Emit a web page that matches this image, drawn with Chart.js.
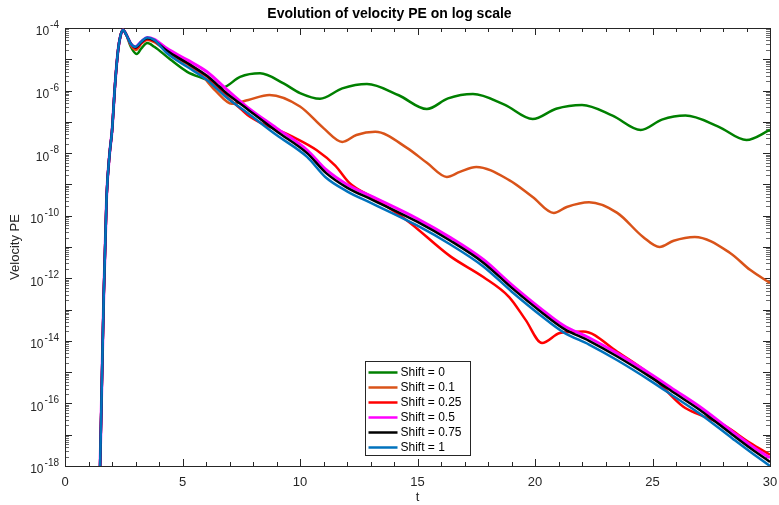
<!DOCTYPE html>
<html>
<head>
<meta charset="utf-8">
<script src="https://cdn.jsdelivr.net/npm/chart.js@4.4.1/dist/chart.umd.min.js"></script>
<style>
  html, body { margin: 0; padding: 0; background: #fff; }
  #wrap { width: 779px; height: 505px; }
</style>
</head>
<body>
<div id="wrap"><canvas id="velChart" width="779" height="505"></canvas></div>
<script>
// data: waktu t dan eksponen (log10) dari Velocity PE
var tGreen = [1.45, 1.55, 1.65, 1.77, 1.9, 2.0, 2.13, 2.26, 2.36, 2.47, 2.6, 2.8, 3.05, 3.25, 3.5, 3.8, 4.47, 5.2, 6.04, 6.7,
              7.45, 8.3, 9.3, 10.0, 10.85, 11.8, 12.85, 14.2, 15.4, 16.3, 17.36, 18.7, 19.9, 20.9, 22.0, 23.3, 24.5, 25.4, 26.4, 27.8, 29.0, 30];
var eGreen = [-19.5, -16, -12.5, -9.4, -8, -7.3, -5.8, -4.7, -4.25, -4.06, -4.2, -4.6, -4.83, -4.65, -4.48, -4.6, -5.0, -5.4, -5.66, -5.9,
              -5.56, -5.45, -5.77, -6.08, -6.26, -5.93, -5.79, -6.15, -6.59, -6.25, -6.11, -6.45, -6.91, -6.58, -6.46, -6.8, -7.26, -6.93, -6.8, -7.15, -7.58, -7.26];

var tOrange = [1.45, 1.55, 1.65, 1.77, 1.9, 2.0, 2.13, 2.26, 2.36, 2.47, 2.6, 2.8, 3.02, 3.25, 3.5, 3.8, 4.3, 4.76, 5.2, 5.8,
               6.4, 7.1, 7.8, 8.7, 10.0, 11.0, 11.8, 12.4, 13.2, 14.55, 15.4, 16.25, 16.8, 17.5, 18.9, 19.9, 20.8, 21.35, 22.3, 23.5,
               24.6, 25.3, 25.9, 26.8, 28.3, 29.15, 30];
var eOrange = [-19.5, -16, -12.5, -9.4, -8, -7.3, -5.8, -4.7, -4.25, -4.06, -4.2, -4.55, -4.7, -4.5, -4.38, -4.45, -4.72, -4.97, -5.15, -5.5,
               -6.0, -6.42, -6.3, -6.14, -6.51, -7.2, -7.64, -7.42, -7.32, -7.83, -8.31, -8.76, -8.6, -8.44, -8.86, -9.4, -9.91, -9.72, -9.57, -9.91,
               -10.68, -11.0, -10.8, -10.68, -11.19, -11.73, -12.15];

var tRed = [1.45, 1.55, 1.65, 1.77, 1.9, 2.0, 2.13, 2.26, 2.36, 2.47, 2.6, 2.8, 3.02, 3.25, 3.5, 3.8, 4.33, 5.2, 6.04, 6.6,
            6.9, 7.5, 7.87, 8.5, 9.15, 9.7, 10.7, 11.5, 12.1, 13.1, 14.55, 16.4, 17.8, 18.9, 19.6, 20.3, 21.06, 22.05, 23.5, 24.9,
            26.3, 27.0, 28.0, 29.15, 30];
var eRed = [-19.5, -16, -12.5, -9.4, -8, -7.3, -5.8, -4.7, -4.25, -4.06, -4.2, -4.52, -4.65, -4.48, -4.36, -4.42, -4.75, -5.12, -5.55, -5.95,
            -6.2, -6.6, -6.84, -7.1, -7.29, -7.48, -7.9, -8.4, -8.95, -9.42, -10.15, -11.3, -11.96, -12.6, -13.33, -14.07, -13.75, -13.7, -14.35, -15.08,
            -16.1, -16.36, -16.68, -17.26, -17.64];

// shift 0.5, 0.75, 1 pakai waktu yang sama
var tPack = [1.45, 1.55, 1.65, 1.77, 1.9, 2.0, 2.13, 2.26, 2.36, 2.47, 2.6, 2.8, 3.0, 3.25, 3.5, 3.8, 4.33, 5.2, 6.04, 6.9,
             7.74, 9.0, 10.3, 11.1, 12.0, 13.1, 15.0, 16.4, 17.8, 19.0, 20.3, 21.2, 22.3, 23.5, 24.9, 26.0, 27.0, 28.4, 29.2, 30];
var ePink = [-19.5, -16, -12.5, -9.4, -8, -7.3, -5.8, -4.7, -4.25, -4.06, -4.2, -4.5, -4.6, -4.43, -4.3, -4.36, -4.65, -5.02, -5.4, -5.98,
             -6.52, -7.2, -7.9, -8.52, -9.0, -9.4, -10.1, -10.7, -11.4, -12.2, -13.0, -13.5, -13.9, -14.4, -15.05, -15.6, -16.1, -16.9, -17.35, -17.74];
var eBlack = [-19.5, -16, -12.5, -9.4, -8, -7.3, -5.8, -4.7, -4.25, -4.06, -4.2, -4.5, -4.62, -4.45, -4.33, -4.4, -4.72, -5.12, -5.53, -6.1,
              -6.58, -7.3, -8.0, -8.63, -9.1, -9.5, -10.2, -10.8, -11.5, -12.3, -13.1, -13.6, -14.0, -14.5, -15.15, -15.7, -16.2, -17.0, -17.45, -17.87];
var eBlue = [-19.5, -16, -12.5, -9.4, -8, -7.3, -5.8, -4.7, -4.25, -4.06, -4.2, -4.5, -4.6, -4.43, -4.3, -4.38, -4.8, -5.24, -5.66, -6.24,
             -6.7, -7.42, -8.12, -8.78, -9.22, -9.62, -10.32, -10.92, -11.62, -12.42, -13.22, -13.72, -14.12, -14.62, -15.27, -15.82, -16.32, -17.12, -17.57, -18.0];

var seriesLabels = ['Shift = 0', 'Shift = 0.1', 'Shift = 0.25', 'Shift = 0.5', 'Shift = 0.75', 'Shift = 1'];
var seriesColors = ['#008000', '#D95319', '#FF0000', '#FF00FF', '#000000', '#0072BD'];
var xTicks = [0, 5, 10, 15, 20, 25, 30];
var yLabelExps = [-4, -6, -8, -10, -12, -14, -16, -18];

var axisColor = '#262626';
var fontFam = '"Liberation Sans", Arial, Helvetica, sans-serif';

//gabungkan t dan eksponen jadi titik {x,y}
function buatTitik(tArr, eArr) {
    var hasil = [];
    for (var i = 0; i < tArr.length; i++) {
        hasil.push({ x: tArr[i], y: Math.pow(10, eArr[i]) });
    }
    return hasil;
}

var seriesData = [
    buatTitik(tGreen, eGreen),
    buatTitik(tOrange, eOrange),
    buatTitik(tRed, eRed),
    buatTitik(tPack, ePink),
    buatTitik(tPack, eBlack),
    buatTitik(tPack, eBlue)
];

var datasets = seriesData.map(function (d, i) {
    return {
        label: seriesLabels[i],
        data: d,
        borderColor: seriesColors[i],
        backgroundColor: seriesColors[i],
        borderWidth: i === 3 ? 3 : 2.5,
        pointRadius: 0,
        fill: false,
        cubicInterpolationMode: 'monotone',
        order: seriesData.length - i
    };
});

// plugin: kotak sumbu ala matlab, tick ke dalam, label 10^n, legend di dalam plot
var matlabAxes = {
    id: 'matlabAxes',
    beforeDatasetsDraw: function (chart) {
        var ctx = chart.ctx;
        var a = chart.chartArea;
        var xs = chart.scales.x, ys = chart.scales.y;
        ctx.save();
        ctx.lineWidth = 1;
        // tick x
        for (var t = 0; t <= 30; t++) {
            var px = Math.round(xs.getPixelForValue(t)) + 0.5;
            var len = (t % 5 === 0) ? 7 : 4;
            ctx.strokeStyle = axisColor;
            ctx.beginPath();
            ctx.moveTo(px, a.bottom); ctx.lineTo(px, a.bottom - len);
            ctx.moveTo(px, a.top); ctx.lineTo(px, a.top + len);
            ctx.stroke();
        }
        // tick y (log)
        for (var e = -18; e <= -4; e++) {
            for (var k = 1; k <= 9; k++) {
                var v = k * Math.pow(10, e);
                if (v > 1.0001e-4) break;
                var py = Math.round(ys.getPixelForValue(v)) + 0.5;
                var l = (k === 1) ? 7 : 4;
                ctx.strokeStyle = (k === 1) ? axisColor : '#6a6a6a';
                ctx.beginPath();
                ctx.moveTo(a.left, py); ctx.lineTo(a.left + l, py);
                ctx.moveTo(a.right, py); ctx.lineTo(a.right - l, py);
                ctx.stroke();
            }
        }
        // kotak
        ctx.strokeStyle = axisColor;
        ctx.strokeRect(Math.round(a.left) + 0.5, Math.round(a.top) + 0.5,
                       Math.round(a.right - a.left), Math.round(a.bottom - a.top));
        // label y: 10 dengan pangkat
        ctx.fillStyle = axisColor;
        ctx.textBaseline = 'alphabetic';
        yLabelExps.forEach(function (ex) {
            var py = ys.getPixelForValue(Math.pow(10, ex));
            var sup = String(ex);
            ctx.font = '10px ' + fontFam;
            var wSup = ctx.measureText(sup).width;
            ctx.font = '12px ' + fontFam;
            var wBase = ctx.measureText('10').width;
            var right = a.left - 6;
            ctx.textAlign = 'left';
            ctx.fillText('10', right - wSup - wBase - 1, py + 7.4);
            ctx.font = '10px ' + fontFam;
            ctx.fillText(sup, right - wSup, py);
        });
        ctx.restore();
    },
    afterDatasetsDraw: function (chart) {
        var ctx = chart.ctx;
        var bx = 365.5, by = 361.5, bw = 105, bh = 94;
        ctx.save();
        ctx.fillStyle = '#ffffff';
        ctx.fillRect(bx, by, bw, bh);
        ctx.strokeStyle = axisColor;
        ctx.lineWidth = 1;
        ctx.strokeRect(bx, by, bw, bh);
        ctx.font = '12px ' + fontFam;
        ctx.textAlign = 'left';
        ctx.textBaseline = 'middle';
        for (var i = 0; i < seriesLabels.length; i++) {
            var yy = by + 11 + i * 15;
            ctx.strokeStyle = seriesColors[i];
            ctx.lineWidth = 2.5;
            ctx.beginPath();
            ctx.moveTo(bx + 3, yy); ctx.lineTo(bx + 32, yy);
            ctx.stroke();
            ctx.fillStyle = '#000000';
            ctx.fillText(seriesLabels[i], bx + 35, yy + 0.5);
        }
        ctx.restore();
    }
};

var ctx = document.getElementById('velChart').getContext('2d');
var myChart = new Chart(ctx, {
    type: 'line',
    data: { datasets: datasets },
    options: {
        responsive: false,
        animation: false,
        devicePixelRatio: 1,
        layout: { padding: { left: 0, right: 0, top: 0, bottom: 0 } },
        plugins: {
            legend: { display: false },
            tooltip: { enabled: false },
            title: {
                display: true,
                text: 'Evolution of velocity PE on log scale',
                color: '#000000',
                font: { family: fontFam, size: 14, weight: 'bold' },
                padding: { top: 6, bottom: 5.2 }
            }
        },
        scales: {
            x: {
                type: 'linear',
                min: 0,
                max: 30,
                afterBuildTicks: function (s) {
                    s.ticks = xTicks.map(function (v) { return { value: v }; });
                },
                afterFit: function (s) {
                    s.height = 39;
                    s.paddingLeft = 0;
                    s.paddingRight = 9;
                },
                grid: { display: false, drawTicks: false },
                border: { display: false },
                ticks: {
                    autoSkip: false,
                    maxRotation: 0,
                    padding: 9,
                    color: axisColor,
                    font: { family: fontFam, size: 13 }
                },
                title: {
                    display: true,
                    text: 't',
                    color: axisColor,
                    font: { family: fontFam, size: 13 },
                    padding: { top: 0, bottom: 0 }
                }
            },
            y: {
                type: 'logarithmic',
                min: 1e-18,
                max: 1e-4,
                afterFit: function (s) { s.width = 65; },
                grid: { display: false, drawTicks: false },
                border: { display: false },
                ticks: { display: false },
                title: {
                    display: true,
                    text: 'Velocity PE',
                    color: axisColor,
                    font: { family: fontFam, size: 13 },
                    padding: { top: 8, bottom: 0 }
                }
            }
        }
    },
    plugins: [matlabAxes]
});
</script>
</body>
</html>
